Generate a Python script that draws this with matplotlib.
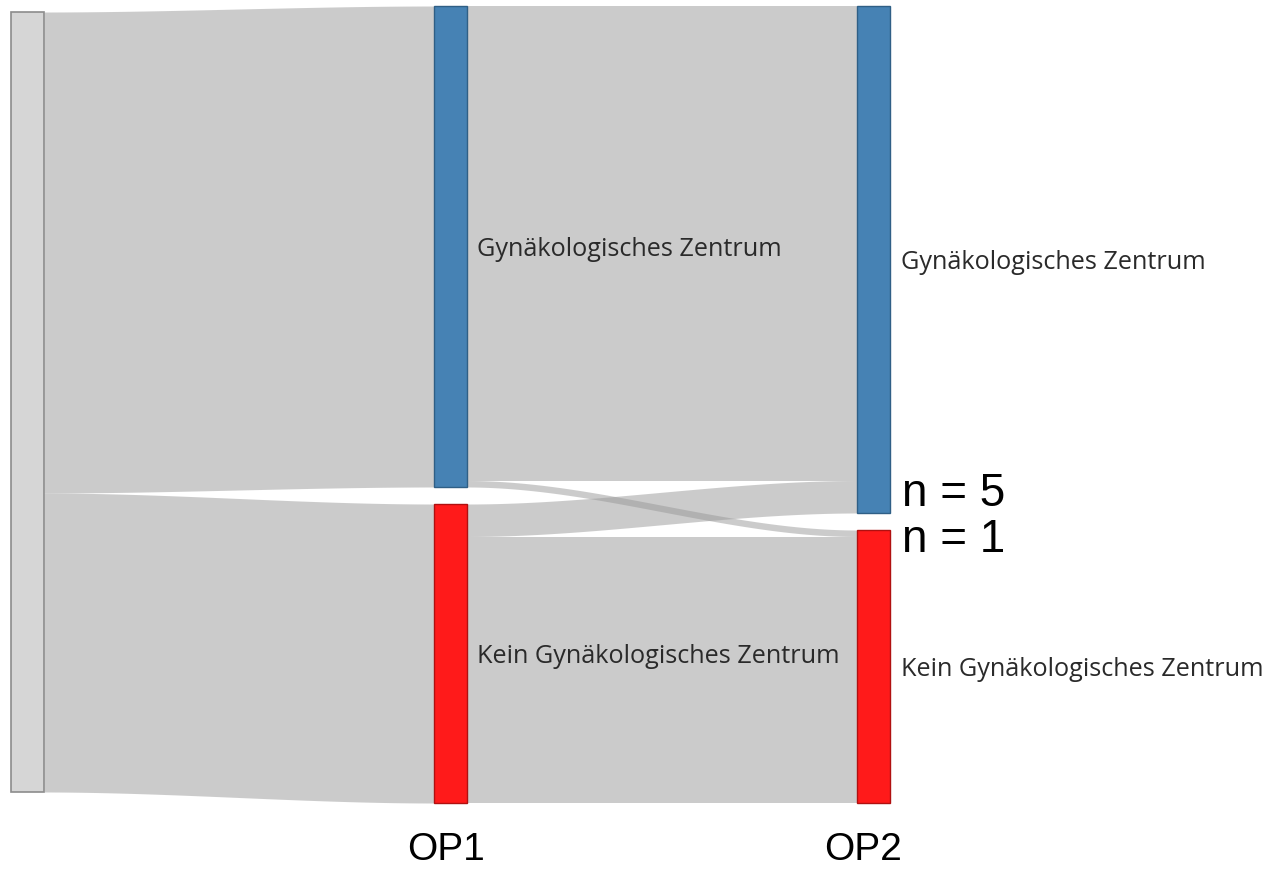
import matplotlib.pyplot as plt
import numpy as np

# data
stages = ["OP1", "OP2"]
nodes = ["Gynäkologisches Zentrum", "Kein Gynäkologisches Zentrum"]
op1_counts = [74, 46]
# flows OP1 -> OP2: rows = from, cols = to
flows = [[73, 1],
         [5, 41]]
op2_counts = [flows[0][j] + flows[1][j] for j in range(2)]
n_labels = ["n = 5", "n = 1"]

node_colors = ["#4682b4", "#ff1a1a"]
edge_colors = ["#2f5f86", "#b01010"]
flow_color = "#999999"

W, H = 1273, 869
fig = plt.figure(figsize=(W / 100, H / 100), dpi=100)
ax = fig.add_axes([0, 0, 1, 1])
ax.set_xlim(0, W)
ax.set_ylim(H, 0)
ax.axis("off")

scale = 6.5
top = 6
gap = 17
nw = 33
x_src, x_op1, x_op2 = 11, 434, 857


def node_tops(counts):
    ys = []
    y = top
    for c in counts:
        ys.append(y)
        y += c * scale + gap
    return ys


def band(x0, x1, y0a, y0b, y1a, y1b):
    xs = np.linspace(x0, x1, 200)
    t = (xs - x0) / (x1 - x0)
    s = 3 * t**2 - 2 * t**3
    upper = y0a + (y1a - y0a) * s
    lower = y0b + (y1b - y0b) * s
    ax.fill_between(xs, upper, lower, color=flow_color, alpha=0.5, lw=0)


total = sum(op1_counts)
src_top = 12
# source -> OP1
t1 = node_tops(op1_counts)
y = src_top
for i, c in enumerate(op1_counts):
    band(x_src + nw, x_op1, y, y + c * scale, t1[i], t1[i] + c * scale)
    y += c * scale

# OP1 -> OP2
t2 = node_tops(op2_counts)
out_off = list(t1)
in_off = list(t2)
for i in range(2):
    for j in range(2):
        h = flows[i][j] * scale
        band(x_op1 + nw, x_op2, out_off[i], out_off[i] + h, in_off[j], in_off[j] + h)
        out_off[i] += h
        in_off[j] += h

# nodes
ax.add_patch(plt.Rectangle((x_src, src_top), nw, total * scale,
                           facecolor="#d6d6d6", edgecolor="#8c8c8c", lw=1.2))
for i in range(2):
    ax.add_patch(plt.Rectangle((x_op1, t1[i]), nw, op1_counts[i] * scale,
                               facecolor=node_colors[i], edgecolor=edge_colors[i], lw=1))
    ax.add_patch(plt.Rectangle((x_op2, t2[i]), nw, op2_counts[i] * scale,
                               facecolor=node_colors[i], edgecolor=edge_colors[i], lw=1))
    ax.text(x_op1 + nw + 10, t1[i] + op1_counts[i] * scale / 2 + 3, nodes[i],
            fontsize=18.2, family="Open Sans", color="#2a2a2a", va="center", ha="left")
    ax.text(x_op2 + nw + 11, t2[i] + op2_counts[i] * scale / 2 + 3, nodes[i],
            fontsize=18.2, family="Open Sans", color="#2a2a2a", va="center", ha="left")

# n labels
ax.text(902, 494, n_labels[0], fontsize=33, family="Liberation Sans", va="center", ha="left")
ax.text(902, 540, n_labels[1], fontsize=33, family="Liberation Sans", va="center", ha="left")

# stage labels
ax.text(446, 850, stages[0], fontsize=28, family="Liberation Sans", va="center", ha="center")
ax.text(863, 850, stages[1], fontsize=28, family="Liberation Sans", va="center", ha="center")

fig.savefig("out.png", dpi=100)
